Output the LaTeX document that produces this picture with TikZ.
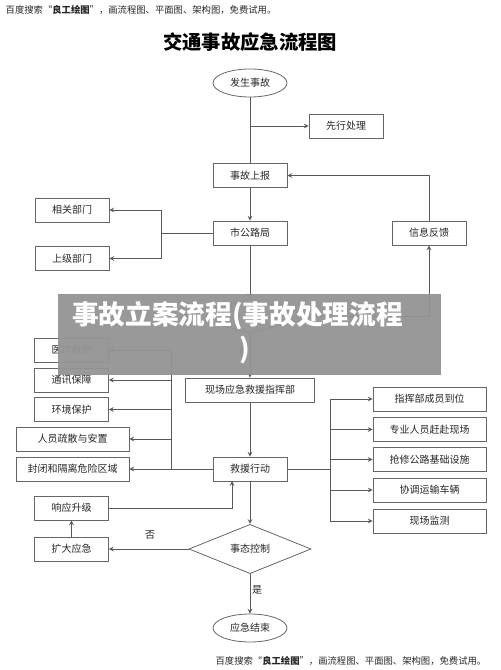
\documentclass[tikz,border=0pt]{standalone}
\usepackage{fontspec}
\setmainfont{Noto Sans CJK SC}
\usetikzlibrary{shapes.geometric}

\def\xmid{250}
\def\xleft{72}
\def\xright{429.5}

\begin{document}
\begin{tikzpicture}[x=0.75pt, y=-0.75pt,
	every node/.style={font=\fontsize{7.5}{9}\selectfont, text=black!85},
	box/.style={draw=black!60, line width=0.6pt, minimum width=55.5pt, minimum height=18pt, inner sep=0pt},
	widebox/.style={box, minimum width=84.75pt},
	cmdbox/.style={box, minimum width=96.75pt},
	terminal/.style={draw=black!60, ellipse, line width=0.6pt, minimum width=55.5pt, minimum height=21pt, inner sep=0pt},
	decision/.style={draw=black!60, diamond, line width=0.6pt, minimum width=91.5pt, minimum height=24pt, inner sep=0pt},
	link/.style={draw=black!65, line width=0.6pt},
	flow/.style={link, -stealth}
]

	\useasboundingbox (0,0) rectangle (500,670);

	%%% Header and title
	\node[anchor=west, font=\fontsize{7}{8}\selectfont] (hdr) at (1,10) {百度搜索“\textbf{良工绘图}”，画流程图、平面图、架构图，免费试用。};
	\node[font=\bfseries\fontsize{14.5}{16}\selectfont, text=black] (title) at (\xmid,42) {交通事故应急流程图};

	%%% Reporting
	\node[terminal] (fssg) at (\xmid,83) {发生事故};
	\node[box] (xxcl) at (346,126) {先行处理};
	\node[box] (sgsb) at (\xmid,175.5) {事故上报};
	\node[box] (sglj) at (\xmid,233) {市公路局};
	\node[box] (xgbm) at (\xleft,210) {相关部门};
	\node[box] (sjbm) at (\xleft,258.5) {上级部门};
	\node[box] (xxfk) at (429,233) {信息反馈};
	\node[decision, minimum width=97.5pt, minimum height=26pt] (lian) at (\xmid,316) {};
	\coordinate (split_top) at (161,233);

	\draw[link] (fssg) -- (sgsb);
	\draw[flow] (fssg.south |- xxcl.west) -- (xxcl.west);
	\draw[flow] (sgsb) -- (sglj);
	\draw[link] (sglj.west) -- (split_top);
	\draw[flow] (split_top) |- (xgbm.east);
	\draw[flow] (split_top) |- (sjbm.east);
	\draw[flow] (sglj) -- (lian);
	\draw[flow] (lian.east) -| (xxfk.south);
	\draw[flow] (xxfk.north) |- (sgsb.east);

	%%% Rescue
	\node[cmdbox] (zhb) at (\xmid,390) {现场应急救援指挥部};
	\node[box] (jyxd) at (\xmid,469) {救援行动};
	\node[font=\fontsize{7}{8}\selectfont] (yes_la) at (243,352) {是};
	\draw[flow] (lian) -- (zhb);
	\draw[flow] (zhb) -- (jyxd);

	\node[box] (ylju) at (71.5,350) {医疗救护};
	\node[box] (txbz) at (71.5,380) {通讯保障};
	\node[box] (hjbh) at (71.5,409.5) {环境保护};
	\node[widebox] (ryss) at (72.5,439) {人员疏散与安置};
	\node[widebox] (fbgl) at (72.5,469) {封闭和隔离危险区域};
	\coordinate (split_left) at (171,469);
	\draw[link] (jyxd.west) -- (split_left);
	\foreach \n in {ylju,txbz,hjbh,ryss,fbgl}
		\draw[flow] (split_left) |- (\n.east);

	\node[widebox] (zhdw) at (\xright,399) {指挥部成员到位};
	\node[widebox] (zyry) at (\xright,429.5) {专业人员赶赴现场};
	\node[widebox] (qxgl) at (\xright,459.5) {抢修公路基础设施};
	\node[widebox] (xtys) at (\xright,490) {协调运输车辆};
	\node[widebox] (xcjc) at (\xright,521) {现场监测};
	\coordinate (split_right) at (330,469);
	\draw[link] (jyxd.east) -- (split_right);
	\foreach \n in {zhdw,zyry,qxgl,xtys,xcjc}
		\draw[flow] (split_right) |- (\n.west);

	%%% Control
	\node[decision] (stkz) at (\xmid,549) {事态控制};
	\node[box] (kdyj) at (71.5,549) {扩大应急};
	\node[box] (xysj) at (71.5,508) {响应升级};
	\node[terminal] (yjjs) at (\xmid,628) {应急结束};
	\coordinate (jy_in) at (232,481);
	\node (no_tk) at (150,535) {否};
	\node (yes_tk) at (257,590) {是};

	\draw[flow] (jyxd) -- (stkz);
	\draw[flow] (stkz.west) -- (kdyj.east);
	\draw[flow] (kdyj) -- (xysj);
	\draw[flow] (xysj.east) -| (jy_in);
	\draw[flow] (stkz) -- (yjjs);

	%%% Overlay banner
	\fill[black!42, opacity=0.95] (58,294) rectangle (441,375);
	\node[font=\bfseries\fontsize{20}{22}\selectfont, text=white] (banner_a) at (237.5,316) {事故立案流程(事故处理流程};
	\node[font=\bfseries\fontsize{20}{22}\selectfont, text=white] (banner_b) at (245,350) {)};

	%%% Footer
	\node[anchor=east, font=\fontsize{7}{8}\selectfont] (ftr) at (491,661) {百度搜索“\textbf{良工绘图}”，画流程图、平面图、架构图，免费试用。};

\end{tikzpicture}
\end{document}
